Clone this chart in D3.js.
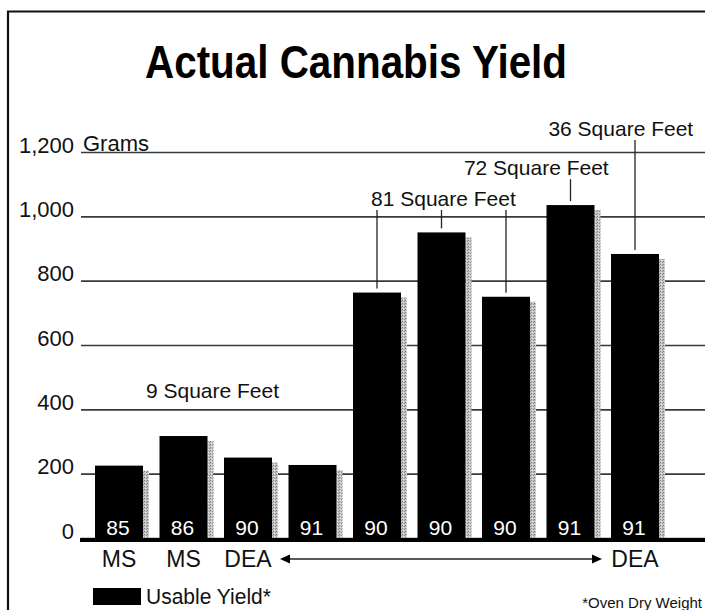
<!DOCTYPE html>
<html>
<head>
<meta charset="utf-8">
<script src="https://cdn.jsdelivr.net/npm/d3@7"></script>
<style>
  html, body { margin: 0; padding: 0; background: #fff; }
  svg { display: block; }
  text { font-family: "Liberation Sans", Arial, Helvetica, sans-serif; }
</style>
</head>
<body>
<svg id="chart" width="705" height="610"></svg>
<script>
// Usable yield per crop, grams (oven dry weight)
const crops = ["c1", "c2", "c3", "c4", "c5", "c6", "c7", "c8", "c9"];
const yieldGrams = [225, 317, 250, 227, 763, 950, 750, 1035, 883];
const yearLabels = ["85", "86", "90", "91", "90", "90", "90", "91", "91"];
const growerLabels = ["MS", "MS", "DEA", "", "", "", "", "", "DEA"];
const yTicks = [0, 200, 400, 600, 800, 1000, 1200];

// Plot-area notes: label, crops it points to (leader lines), horizontal anchor (crop index), height (grams)
const areaNotes = [
  { label: "9 Square Feet",  points: [],         at: 1.45, level: 435 },
  { label: "81 Square Feet", points: [4, 5, 6],  at: 5.03, level: 1032 },
  { label: "72 Square Feet", points: [7],        at: 6.47, level: 1128 },
  { label: "36 Square Feet", points: [8],        at: 7.78, level: 1250 }
];

const svg = d3.select("#chart");
const W = 705, H = 610;
const left = 81, right = 705;

const x = d3.scaleBand()
  .domain(crops)
  .range([86.75, 667.25])
  .paddingInner(0.256)
  .paddingOuter(0.128);
const bw = x.bandwidth();
const cx = i => {
  const lo = Math.floor(i), hi = Math.min(crops.length - 1, lo + 1), f = i - lo;
  const a = x(crops[lo]) + bw / 2, b = x(crops[hi]) + bw / 2;
  return a + (b - a) * f;
};

const y = d3.scaleLinear().domain([0, 1200]).range([538, 152]);

// stippled shadow texture
const defs = svg.append("defs");
const pat = defs.append("pattern")
  .attr("id", "stipple").attr("width", 3).attr("height", 3)
  .attr("patternUnits", "userSpaceOnUse");
pat.append("rect").attr("width", 3).attr("height", 3).attr("fill", "#c4c4c4");
pat.append("rect").attr("x", 0).attr("y", 0).attr("width", 1).attr("height", 1).attr("fill", "#7a7a7a");
pat.append("rect").attr("x", 2).attr("y", 1).attr("width", 1).attr("height", 1).attr("fill", "#8e8e8e");
pat.append("rect").attr("x", 1).attr("y", 2).attr("width", 1).attr("height", 1).attr("fill", "#e6e6e6");

// frame
svg.append("line").attr("x1", 7).attr("x2", W).attr("y1", 11.5).attr("y2", 11.5)
  .attr("stroke", "#111").attr("stroke-width", 2);
svg.append("line").attr("x1", 8).attr("x2", 8).attr("y1", 11).attr("y2", H)
  .attr("stroke", "#111").attr("stroke-width", 2.2);

// title
svg.append("text")
  .attr("x", 356).attr("y", 78)
  .attr("text-anchor", "middle")
  .attr("font-size", 46).attr("font-weight", "bold")
  .attr("textLength", 422).attr("lengthAdjust", "spacingAndGlyphs")
  .attr("fill", "#000")
  .text("Actual Cannabis Yield");

// gridlines + value axis
const yAxis = svg.append("g")
  .attr("transform", `translate(${left},0)`)
  .call(d3.axisLeft(y)
    .tickValues(yTicks)
    .tickFormat(d3.format(","))
    .tickSize(-(right - left))
    .tickPadding(7));
yAxis.select(".domain").remove();
yAxis.selectAll(".tick line").attr("stroke", "#3a3a3a").attr("stroke-width", 1.6);
yAxis.selectAll(".tick text")
  .attr("dy", 0)
  .attr("font-size", 22)
  .attr("font-family", "'Liberation Sans', Arial, Helvetica, sans-serif")
  .attr("fill", "#111");

// unit label beside the top tick
svg.append("text")
  .attr("x", left + 2).attr("y", y(1200) - 1)
  .attr("font-size", 22).attr("fill", "#111")
  .text("Grams");

// shadows
svg.append("g").selectAll("rect").data(yieldGrams).join("rect")
  .attr("x", (d, i) => x(crops[i]) + bw)
  .attr("y", d => y(d) + 5)
  .attr("width", 6)
  .attr("height", d => y(0) - y(d) - 5)
  .attr("fill", "url(#stipple)");

// bars
svg.append("g").selectAll("rect").data(yieldGrams).join("rect")
  .attr("x", (d, i) => x(crops[i]))
  .attr("y", d => y(d))
  .attr("width", bw)
  .attr("height", d => y(0) - y(d))
  .attr("fill", "#000");

// baseline
svg.append("line")
  .attr("x1", left - 1).attr("x2", right)
  .attr("y1", y(0) + 2).attr("y2", y(0) + 2)
  .attr("stroke", "#000").attr("stroke-width", 4);

// year labels inside bars
svg.append("g").selectAll("text").data(yearLabels).join("text")
  .attr("x", (d, i) => x(crops[i]) + bw / 2 - 1)
  .attr("y", y(0) - 3)
  .attr("text-anchor", "middle")
  .attr("font-size", 21)
  .attr("fill", "#fff")
  .text(d => d);

// grower labels under bars
svg.append("g").selectAll("text").data(growerLabels).join("text")
  .attr("x", (d, i) => x(crops[i]) + bw / 2)
  .attr("y", 566.5)
  .attr("text-anchor", "middle")
  .attr("font-size", 23)
  .attr("fill", "#111")
  .text(d => d);

// double-headed arrow spanning the DEA crops
const arrowY = 559;
const ax1 = cx(2) + 32, ax2 = cx(8) - 33;
svg.append("line")
  .attr("x1", ax1 + 8).attr("x2", ax2 - 8)
  .attr("y1", arrowY).attr("y2", arrowY)
  .attr("stroke", "#222").attr("stroke-width", 1.3);
svg.append("path")
  .attr("d", `M${ax1},${arrowY} l10,-4.5 l0,9 Z M${ax2},${arrowY} l-10,-4.5 l0,9 Z`)
  .attr("fill", "#000");

// notes with leader lines
const notes = svg.append("g");
areaNotes.forEach(n => {
  const ty = y(n.level);
  notes.append("text")
    .attr("x", cx(n.at)).attr("y", ty)
    .attr("text-anchor", "middle")
    .attr("font-size", 21)
    .attr("fill", "#111")
    .text(n.label);
  n.points.forEach(i => {
    notes.append("line")
      .attr("x1", cx(i)).attr("x2", cx(i))
      .attr("y1", ty + 4).attr("y2", y(yieldGrams[i]) - 4)
      .attr("stroke", "#222").attr("stroke-width", 1.3);
  });
});

// legend
svg.append("rect")
  .attr("x", 93).attr("y", 588).attr("width", 48).attr("height", 17)
  .attr("fill", "#000");
svg.append("text")
  .attr("x", 146).attr("y", 604)
  .attr("font-size", 22)
  .attr("textLength", 125).attr("lengthAdjust", "spacingAndGlyphs")
  .attr("fill", "#111")
  .text("Usable Yield*");

// footnote
svg.append("text")
  .attr("x", 702).attr("y", 607.5)
  .attr("text-anchor", "end")
  .attr("font-size", 15)
  .attr("fill", "#111")
  .text("*Oven Dry Weight");
</script>
</body>
</html>
